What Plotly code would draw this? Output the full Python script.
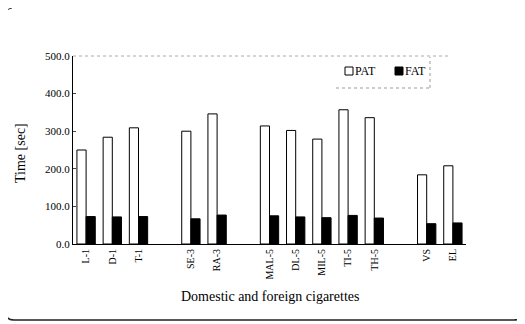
import plotly.graph_objects as go

categories = ["L-1", "D-1", "T-1", " ", "SE-3", "RA-3", "  ", "MAL-5", "DL-5", "MIL-5",
              "TI-5", "TH-5", "   ", "VS", "EL"]
pat = [250, 284, 309, None, 300, 346, None, 314, 302, 279, 357, 336, None, 184, 208]
fat = [73, 72, 73, None, 67, 77, None, 75, 72, 70, 76, 69, None, 54, 56]
yticks = [0, 100, 200, 300, 400, 500]
legend_names = ["PAT", "FAT"]

# the page body adds an 8px offset; work in screen pixels
OFF = 8
W, H = 525 - OFF, 324 - OFF
L, R, T, B = 73, 466, 56, 244  # plot area, screen px

def px(x):
    return (x - L) / (R - L)

def py(y):
    return (B - y) / (B - T)

FONT = "Liberation Serif, Times New Roman, serif"

fig = go.Figure()
fig.add_trace(go.Bar(x=categories, y=pat, name=legend_names[0],
                     marker=dict(color="white", line=dict(color="black", width=1))))
fig.add_trace(go.Bar(x=categories, y=fat, name=legend_names[1],
                     marker=dict(color="black", line=dict(color="black", width=1))))

shapes = []
shapes.append(dict(type="line", xref="paper", yref="paper", x0=0, x1=px(450), y0=1, y1=1,
                   line=dict(color="#aaa", width=1, dash="dot")))
shapes.append(dict(type="line", xref="paper", yref="paper", x0=px(336), x1=px(430), y0=py(88), y1=py(88),
                   line=dict(color="#999", width=1, dash="dot")))
shapes.append(dict(type="line", xref="paper", yref="paper", x0=px(430), x1=px(430), y0=py(88), y1=py(57),
                   line=dict(color="#999", width=1, dash="dot")))
shapes.append(dict(type="path", xref="paper", yref="paper",
                   path=f"M {px(5)},{py(17)} Q {px(5)},{py(9)} {px(12)},{py(8)}",
                   line=dict(color="#333", width=1)))
shapes.append(dict(type="path", xref="paper", yref="paper",
                   path=f"M {px(5)},{py(312)} Q {px(6)},{py(320)} {px(14)},{py(320)} L {px(514)},{py(320)} Q {px(521)},{py(320)} {px(522)},{py(313)}",
                   line=dict(color="#222", width=1.5)))
# legend swatches
shapes.append(dict(type="rect", xref="paper", yref="paper", x0=px(345), x1=px(353), y0=py(75), y1=py(67),
                   line=dict(color="black", width=1), fillcolor="white"))
shapes.append(dict(type="rect", xref="paper", yref="paper", x0=px(395), x1=px(403), y0=py(75), y1=py(67),
                   line=dict(color="black", width=1), fillcolor="black"))

annotations = [
    dict(text=legend_names[0], x=px(353), y=py(71), xref="paper", yref="paper", xanchor="left", yanchor="middle",
         showarrow=False, font=dict(family=FONT, size=12)),
    dict(text=legend_names[1], x=px(403), y=py(71), xref="paper", yref="paper", xanchor="left", yanchor="middle",
         showarrow=False, font=dict(family=FONT, size=12)),
    dict(text="Time [sec]", x=px(20), y=py(153), xref="paper", yref="paper", xanchor="center", yanchor="middle",
         textangle=-90, showarrow=False, font=dict(family=FONT, size=14)),
    dict(text="Domestic and foreign cigarettes", x=px(270), y=py(296), xref="paper", yref="paper",
         xanchor="center", yanchor="middle", showarrow=False, font=dict(family=FONT, size=14)),
]

fig.update_layout(
    width=W, height=H,
    margin=dict(l=L - OFF, r=W - (R - OFF), t=T - OFF, b=H - (B - OFF), pad=0),
    paper_bgcolor="white", plot_bgcolor="white",
    barmode="group", bargap=0.3, bargroupgap=0,
    font=dict(family=FONT, color="black", size=10),
    showlegend=False,
    shapes=shapes,
    annotations=annotations,
    xaxis=dict(type="category", categoryorder="array", categoryarray=categories,
               tickangle=-90, showline=True, linecolor="black", linewidth=1,
               ticks="", showgrid=False, tickfont=dict(family=FONT, size=10)),
    yaxis=dict(range=[0, 500], tickvals=yticks, tickformat=".1f",
               showline=True, linecolor="black", linewidth=1, ticks="inside", ticklen=3,
               showgrid=False, zeroline=False, tickfont=dict(family=FONT, size=11)),
)

fig.write_html("out.html")
